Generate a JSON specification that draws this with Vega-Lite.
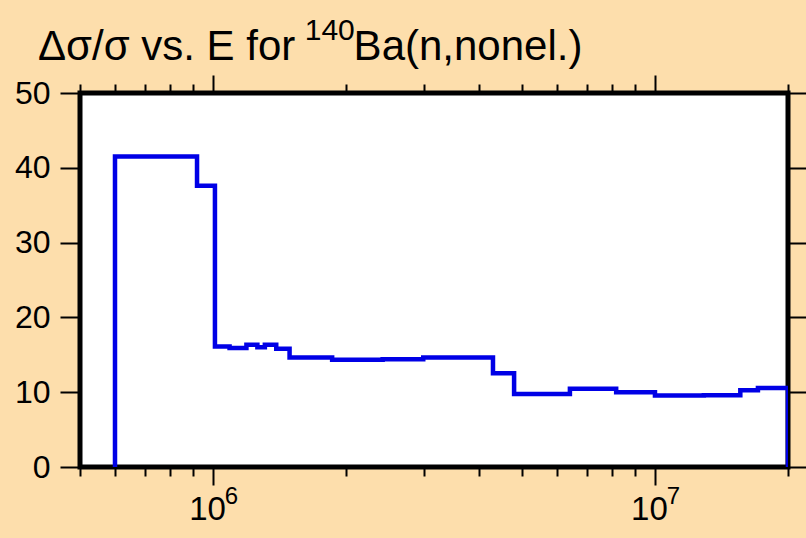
{
  "$schema": "https://vega.github.io/schema/vega-lite/v6.json",
  "width": 708,
  "height": 374,
  "autosize": "none",
  "padding": {"left": 80, "top": 93, "right": 18, "bottom": 71},
  "background": "#FDDEAC",
  "view": {"fill": "white", "stroke": "black", "strokeWidth": 5},
  "title": {
    "text": "\u200b\u00a0\u00a0\u00a0\u00a0\u00a0\u00a0\u00a0\u00a0\u00a0\u00a0\u00a0\u00a0\u00a0\u00a0\u00a0\u00a0\u00a0\u00a0\u00a0\u00a0\u00a0\u00a0\u00a0\u00a0\u00a0\u00a0\u00a0\u00a0\u00a0\u00a0\u00a0\u00a0140",
    "subtitle": "Δσ/σ vs. E for\u00a0\u00a0\u00a0\u00a0\u00a0Ba(n,nonel.)",
    "anchor": "start",
    "frame": "group",
    "dx": -42,
    "dy": 30,
    "font": "Liberation Sans",
    "fontSize": 30,
    "fontWeight": "normal",
    "color": "black",
    "subtitleFont": "Liberation Sans",
    "subtitleFontSize": 42,
    "subtitleFontWeight": "normal",
    "subtitleColor": "black",
    "subtitlePadding": -10,
    "baseline": "alphabetic",
    "offset": 12
  },
  "data": {
    "values": [
      {"i": 0, "E": 600000, "v": 0},
      {"i": 1, "E": 600000, "v": 41.5},
      {"i": 2, "E": 920000, "v": 37.6},
      {"i": 3, "E": 1010000, "v": 16.1},
      {"i": 4, "E": 1090000, "v": 15.9},
      {"i": 5, "E": 1190000, "v": 16.35},
      {"i": 6, "E": 1260000, "v": 16.0},
      {"i": 7, "E": 1310000, "v": 16.35},
      {"i": 8, "E": 1390000, "v": 15.8},
      {"i": 9, "E": 1490000, "v": 14.65},
      {"i": 10, "E": 1860000, "v": 14.35},
      {"i": 11, "E": 2420000, "v": 14.4},
      {"i": 12, "E": 2990000, "v": 14.65},
      {"i": 13, "E": 4300000, "v": 12.55},
      {"i": 14, "E": 4800000, "v": 9.75},
      {"i": 15, "E": 6420000, "v": 10.45},
      {"i": 16, "E": 8170000, "v": 10.0},
      {"i": 17, "E": 10000000, "v": 9.55},
      {"i": 18, "E": 12900000, "v": 9.6},
      {"i": 19, "E": 15600000, "v": 10.25},
      {"i": 20, "E": 17100000, "v": 10.55},
      {"i": 21, "E": 20000000, "v": 10.55},
      {"i": 22, "E": 20000000, "v": 0}
    ]
  },
  "layer": [
    {
      "mark": {"type": "line", "interpolate": "step-after", "color": "#0000E6", "strokeWidth": 4.5, "clip": true},
      "encoding": {
        "x": {
          "field": "E", "type": "quantitative",
          "scale": {"type": "log", "domain": [500000, 20000000], "nice": false},
          "axis": {
            "orient": "bottom",
            "title": null,
            "values": [500000, 600000, 700000, 800000, 900000, 1000000, 2000000, 3000000, 4000000, 5000000, 6000000, 7000000, 8000000, 9000000, 10000000, 20000000],
            "tickSize": {"condition": {"test": "datum.value == 1000000 || datum.value == 10000000", "value": 18}, "value": 9},
            "tickWidth": 2,
            "tickColor": "black",
            "domain": false,
            "grid": false,
            "labelExpr": "datum.value == 1000000 || datum.value == 10000000 ? '10' : ''",
            "labelFont": "Liberation Sans",
            "labelFontSize": 33,
            "labelColor": "black",
            "labelPadding": 8,
            "labelOffset": -6,
            "labelOverlap": false,
            "labelFlush": false
          }
        },
        "y": {
          "field": "v", "type": "quantitative",
          "scale": {"domain": [0, 50], "nice": false},
          "axis": {
            "orient": "left",
            "title": null,
            "values": [0, 10, 20, 30, 40, 50],
            "tickSize": 20,
            "tickWidth": 2,
            "tickColor": "black",
            "domain": false,
            "grid": false,
            "labelFont": "Liberation Sans",
            "labelFontSize": 32,
            "labelColor": "black",
            "labelPadding": 10,
            "labelOverlap": false,
            "labelFlush": false
          }
        },
        "order": {"field": "i", "type": "quantitative"}
      }
    },
    {
      "mark": {"type": "line", "opacity": 0},
      "encoding": {
        "x": {
          "field": "E", "type": "quantitative",
          "scale": {"type": "log", "domain": [500000, 20000000], "nice": false},
          "axis": {
            "orient": "top",
            "title": null,
            "values": [500000, 600000, 700000, 800000, 900000, 1000000, 2000000, 3000000, 4000000, 5000000, 6000000, 7000000, 8000000, 9000000, 10000000, 20000000],
            "tickSize": {"condition": {"test": "datum.value == 1000000 || datum.value == 10000000", "value": 18}, "value": 9},
            "tickWidth": 2,
            "tickColor": "black",
            "domain": false,
            "grid": false,
            "labelExpr": "datum.value == 1000000 ? '6' : (datum.value == 10000000 ? '7' : '')",
            "labelFont": "Liberation Sans",
            "labelFontSize": 24,
            "labelColor": "black",
            "labelBaseline": "alphabetic",
            "labelPadding": -428,
            "labelOffset": 18,
            "labelOverlap": false,
            "labelFlush": false
          }
        },
        "y": {
          "field": "v", "type": "quantitative",
          "scale": {"domain": [0, 50], "nice": false},
          "axis": {
            "orient": "right",
            "title": null,
            "values": [0, 10, 20, 30, 40, 50],
            "tickSize": 20,
            "tickWidth": 2,
            "tickColor": "black",
            "domain": false,
            "grid": false,
            "labels": false
          }
        },
        "order": {"field": "i", "type": "quantitative"}
      }
    }
  ],
  "resolve": {"axis": {"x": "independent", "y": "independent"}}
}
